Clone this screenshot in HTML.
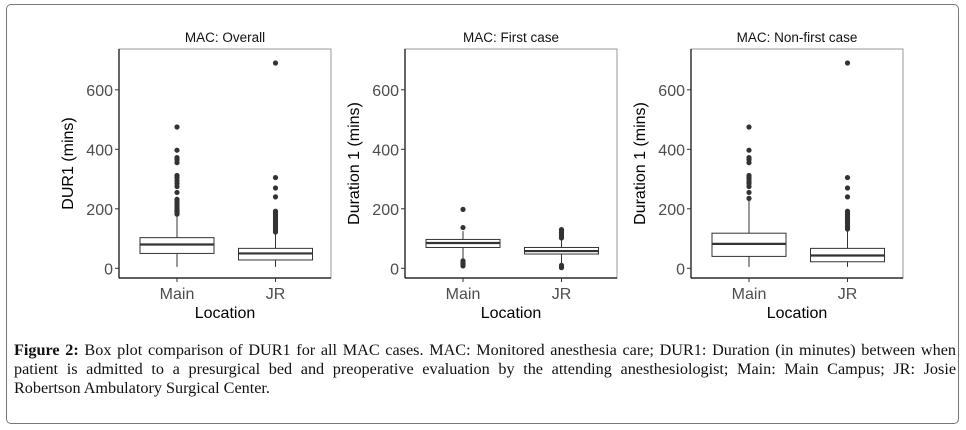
<!DOCTYPE html>
<html><head><meta charset="utf-8"><style>
body{margin:0;background:#fff;width:966px;height:430px;overflow:hidden;position:relative}
#frame{position:absolute;left:6px;top:4px;width:953px;height:420px;border:1px solid #777;border-radius:5px;box-sizing:border-box}
#cap{position:absolute;left:14px;top:341px;width:942px;font-family:"Liberation Serif",serif;font-size:16.2px;line-height:19px;color:#111}
#cap div{white-space:nowrap;text-align:justify;text-align-last:justify}
#cap div.last{text-align-last:left}
svg{position:absolute;left:0;top:0}
</style></head><body>
<div id="frame"></div>
<svg id="chart" width="966" height="330"></svg>
<div id="cap">
<div><b>Figure 2:</b> Box plot comparison of DUR1 for all MAC cases. MAC: Monitored anesthesia care; DUR1: Duration (in minutes) between when</div>
<div>patient is admitted to a presurgical bed and preoperative evaluation by the attending anesthesiologist; Main: Main Campus; JR: Josie</div>
<div class="last">Robertson Ambulatory Surgical Center.</div>
</div>
<script>
const panelTitles=["MAC: Overall","MAC: First case","MAC: Non-first case"];
const yTitles=["DUR1 (mins)","Duration 1 (mins)","Duration 1 (mins)"];
const categories=["Main","JR"];
const yTicks=[0,200,400,600];
// [whiskerLow,q1,median,q3,whiskerHigh] per panel per category
const stats=[
 [[5,50,80,103,180],[5,28,50,67,120]],
 [[30,70,85,97,125],[12,48,58,70,100]],
 [[5,40,82,118,232],[5,22,43,67,128]]
];
const outliers=[
 [[182,186,190,194,198,203,210,218,225,232,255,275,285,295,305,312,355,365,372,397,475],
  [122,128,134,140,146,152,158,164,170,176,182,188,192,240,270,305,690]],
 [[8,12,16,20,25,137,198],[2,6,10,102,108,114,120,126,130]],
 [[235,255,275,285,292,300,306,312,355,365,372,397,475],
  [132,138,144,150,156,162,168,174,180,186,192,240,270,305,690]]
];
const panelLeft=[119,405,691];
const NS="http://www.w3.org/2000/svg";
const svg=document.getElementById('chart');
function mk(t,a,p){const e=document.createElementNS(NS,t);for(const k in a)e.setAttribute(k,a[k]);(p||svg).appendChild(e);return e;}
const W=212,top0=49,bot=278;
function yS(v){return 268.3-v*0.2975;}
panelTitles.forEach((title,p)=>{
 const L=panelLeft[p];
 const g=mk('g',{});
 
 
 function xS(i){return L+58+i*98.5;}
 const r=mk('rect',{x:L,y:top0,width:W,height:bot-top0,fill:'none',stroke:'#999','stroke-width':1},g);
 
 mk('line',{x1:L,y1:top0,x2:L,y2:bot,stroke:'#000','stroke-width':1.2},g);
 mk('line',{x1:L,y1:bot,x2:L+W,y2:bot,stroke:'#000','stroke-width':1.2},g);
 const t=mk('text',{x:L+W/2,y:42,'text-anchor':'middle','font-family':'Liberation Sans, sans-serif','font-size':13.5,fill:'#111'},g);
 t.textContent=title;
 yTicks.forEach(v=>{
  mk('line',{x1:L-4,y1:yS(v),x2:L,y2:yS(v),stroke:'#333'},g);
  const tl=mk('text',{x:L-6,y:yS(v)+6,'text-anchor':'end','font-family':'Liberation Sans, sans-serif','font-size':16,fill:'#4d4d4d'},g);
  tl.textContent=v;
 });
 const yt=mk('text',{transform:`translate(${L-46},${(top0+bot)/2}) rotate(-90)`,'text-anchor':'middle','font-family':'Liberation Sans, sans-serif','font-size':16,fill:'#000'},g);
 yt.textContent=yTitles[p];
 const xt=mk('text',{x:L+W/2,y:318,'text-anchor':'middle','font-family':'Liberation Sans, sans-serif','font-size':16,fill:'#000'},g);
 xt.textContent='Location';
 categories.forEach((c,i)=>{
  const x=xS(i),s=stats[p][i],hw=37;
  mk('line',{x1:x,y1:bot,x2:x,y2:bot+4,stroke:'#333'},g);
  const cl=mk('text',{x:x,y:299,'text-anchor':'middle','font-family':'Liberation Sans, sans-serif','font-size':16,fill:'#4d4d4d'},g);
  cl.textContent=c;
  const bg=mk('g',{},g);
  
  mk('line',{x1:x,y1:yS(s[0]),x2:x,y2:yS(s[1]),stroke:'#333'},bg);
  mk('line',{x1:x,y1:yS(s[3]),x2:x,y2:yS(s[4]),stroke:'#333'},bg);
  mk('rect',{x:x-hw,y:yS(s[3]),width:2*hw,height:yS(s[1])-yS(s[3]),fill:'#fff',stroke:'#333'},bg);
  mk('line',{x1:x-hw,y1:yS(s[2]),x2:x+hw,y2:yS(s[2]),stroke:'#333','stroke-width':2.2},bg);
  outliers[p][i].forEach(v=>{
   const d=mk('circle',{cx:x,cy:yS(v),r:2.6,fill:'#333'},bg);
   
  });
 });
});
</script>
</body></html>
